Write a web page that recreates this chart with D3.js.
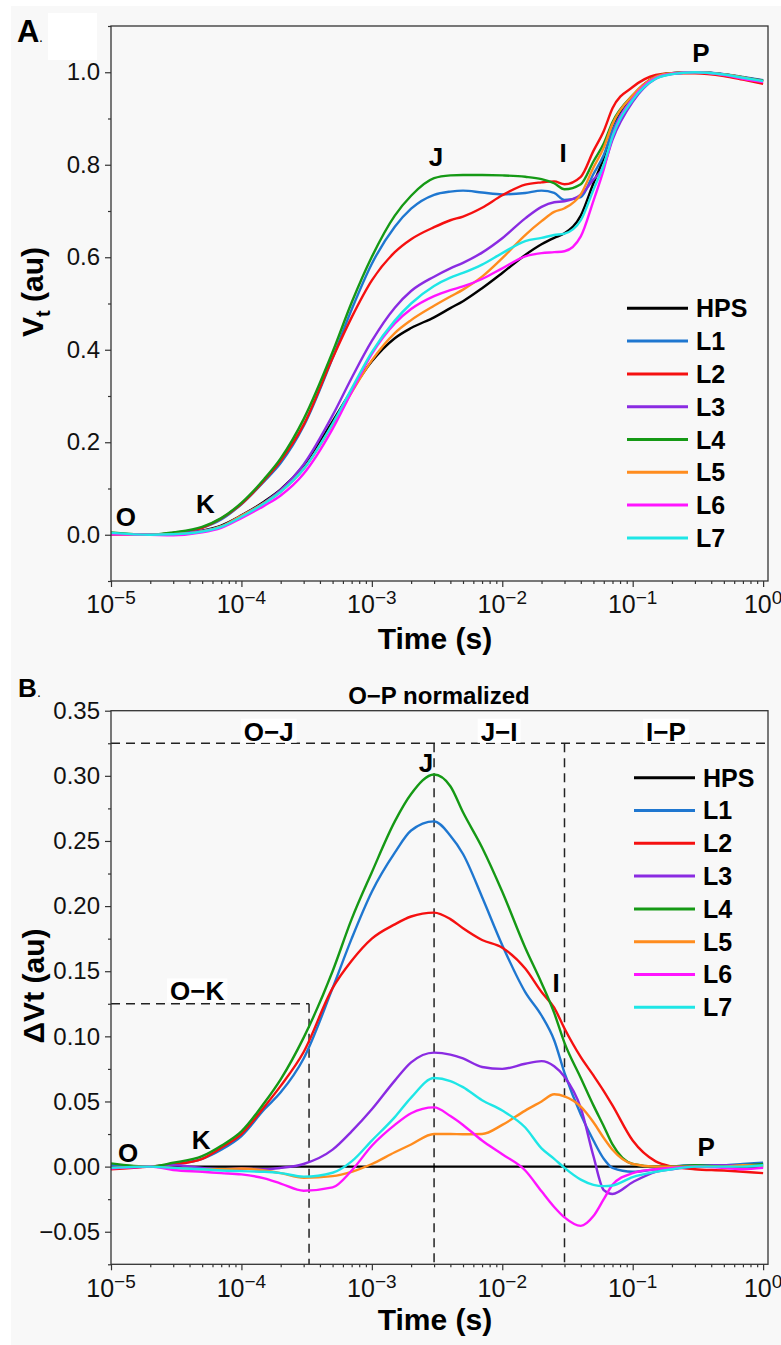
<!DOCTYPE html>
<html>
<head>
<meta charset="utf-8">
<script src="https://cdn.jsdelivr.net/npm/d3@7"></script>
<style>
  body { margin: 0; background: #f8f8f8; }
  svg { display: block; font-family: "Liberation Sans", Arial, sans-serif; }
</style>
</head>
<body>
<svg id="chart" width="781" height="1345"></svg>
<script>
// sampling times (s), shared by both panels
const timePoints = [1e-5, 2e-5, 3e-5, 5e-5, 7e-5, 1e-4, 1.5e-4, 2e-4, 3e-4, 5e-4, 7e-4,
  1e-3, 1.5e-3, 2e-3, 3e-3, 4e-3, 5e-3, 7e-3, 1e-2, 1.5e-2, 2e-2, 2.5e-2, 3e-2, 4e-2,
  5e-2, 6e-2, 7e-2, 1e-1, 1.5e-1, 2e-1, 3e-1, 5e-1, 7e-1, 1];
const seriesNames = ["HPS", "L1", "L2", "L3", "L4", "L5", "L6", "L7"];
const seriesColors = ["#000000", "#1f77d0", "#f51010", "#8a2be2", "#159915", "#ff8c1e", "#ff14ff", "#1ee6e6"];

// panel A : Vt (au)
const vtHPS = [0.002, 0.0, 0.002, 0.009, 0.02, 0.042, 0.072, 0.098, 0.15, 0.245, 0.312, 0.375, 0.425, 0.447, 0.47, 0.49, 0.505, 0.533, 0.566, 0.605, 0.628, 0.642, 0.652, 0.69, 0.76, 0.815, 0.875, 0.948, 0.99, 0.998, 1.0, 0.995, 0.988, 0.98];
const vtL1 = [0.003, 0.0, 0.004, 0.015, 0.033, 0.066, 0.116, 0.155, 0.235, 0.382, 0.487, 0.586, 0.666, 0.705, 0.735, 0.742, 0.744, 0.74, 0.736, 0.739, 0.744, 0.739, 0.724, 0.73, 0.78, 0.821, 0.874, 0.944, 0.988, 0.998, 1.0, 0.996, 0.99, 0.983];
const vtL2 = [0.0, 0.0, 0.004, 0.015, 0.035, 0.067, 0.118, 0.16, 0.238, 0.382, 0.47, 0.55, 0.611, 0.639, 0.665, 0.68, 0.688, 0.707, 0.734, 0.757, 0.762, 0.764, 0.758, 0.774, 0.83, 0.873, 0.922, 0.968, 0.994, 0.998, 0.998, 0.992, 0.984, 0.975];
const vtL3 = [0.001, 0.0, 0.003, 0.008, 0.018, 0.041, 0.07, 0.097, 0.152, 0.258, 0.339, 0.419, 0.491, 0.527, 0.558, 0.576, 0.588, 0.61, 0.641, 0.684, 0.709, 0.719, 0.721, 0.735, 0.768, 0.797, 0.854, 0.936, 0.986, 0.996, 1.0, 0.996, 0.989, 0.982];
const vtL4 = [0.005, 0.0, 0.005, 0.017, 0.036, 0.069, 0.121, 0.165, 0.25, 0.395, 0.502, 0.601, 0.69, 0.733, 0.771, 0.777, 0.778, 0.778, 0.777, 0.774, 0.769, 0.76, 0.747, 0.758, 0.807, 0.846, 0.892, 0.95, 0.99, 0.998, 1.0, 0.995, 0.989, 0.982];
const vtL5 = [0.001, 0.0, 0.001, 0.007, 0.018, 0.041, 0.069, 0.093, 0.142, 0.238, 0.308, 0.377, 0.436, 0.464, 0.495, 0.515, 0.53, 0.558, 0.598, 0.648, 0.678, 0.698, 0.706, 0.736, 0.794, 0.837, 0.888, 0.95, 0.99, 0.998, 1.0, 0.995, 0.989, 0.98];
const vtL6 = [0.001, 0.0, -0.001, 0.005, 0.015, 0.036, 0.063, 0.085, 0.132, 0.229, 0.309, 0.391, 0.457, 0.488, 0.516, 0.529, 0.537, 0.553, 0.576, 0.602, 0.609, 0.611, 0.613, 0.645, 0.722, 0.79, 0.861, 0.943, 0.988, 0.997, 1.0, 0.994, 0.986, 0.979];
const vtL7 = [0.004, 0.0, 0.001, 0.007, 0.017, 0.039, 0.068, 0.093, 0.142, 0.24, 0.316, 0.395, 0.463, 0.5, 0.538, 0.556, 0.566, 0.584, 0.609, 0.635, 0.642, 0.648, 0.651, 0.68, 0.746, 0.8, 0.861, 0.94, 0.986, 0.996, 1.0, 0.995, 0.988, 0.981];

// panel B : difference kinetics dVt (au), O-P normalized
const dvtHPS = [0, 0, 0, 0, 0, 0, 0, 0, 0, 0, 0, 0, 0, 0, 0, 0, 0, 0, 0, 0, 0, 0, 0, 0, 0, 0, 0, 0, 0, 0, 0, 0, 0, 0];
const dvtL1 = [0.001, 0, 0.002, 0.006, 0.013, 0.0235, 0.044, 0.057, 0.083, 0.137, 0.175, 0.211, 0.241, 0.258, 0.265, 0.254, 0.24, 0.207, 0.17, 0.134, 0.116, 0.097, 0.072, 0.04, 0.02, 0.006, -0.001, -0.004, -0.002, 0.0, 0.001, 0.001, 0.002, 0.003];
const dvtL2 = [-0.002, 0, 0.0017, 0.006, 0.0145, 0.025, 0.046, 0.062, 0.088, 0.137, 0.158, 0.175, 0.186, 0.192, 0.195, 0.19, 0.183, 0.174, 0.168, 0.152, 0.134, 0.122, 0.106, 0.084, 0.07, 0.058, 0.047, 0.02, 0.004, 0.0, -0.002, -0.003, -0.004, -0.005];
const dvtL3 = [-0.001, 0, 0.001, -0.001, -0.002, -0.0015, -0.002, -0.001, 0.002, 0.013, 0.027, 0.044, 0.066, 0.08, 0.0875, 0.086, 0.083, 0.0765, 0.075, 0.079, 0.081, 0.077, 0.069, 0.045, 0.008, -0.018, -0.021, -0.012, -0.004, -0.002, 0, 0.001, 0.001, 0.002];
const dvtL4 = [0.0025, 0, 0.003, 0.008, 0.016, 0.027, 0.049, 0.067, 0.099, 0.15, 0.19, 0.226, 0.265, 0.286, 0.301, 0.292, 0.272, 0.245, 0.211, 0.168, 0.141, 0.118, 0.095, 0.068, 0.047, 0.031, 0.017, 0.002, 0.0, 0.0, 0.001, 0.0, 0.001, 0.002];
const dvtL5 = [-0.001, 0, -0.001, -0.002, -0.002, -0.0015, -0.003, -0.005, -0.0085, -0.0073, -0.004, 0.002, 0.011, 0.017, 0.025, 0.025, 0.0248, 0.025, 0.032, 0.043, 0.05, 0.0555, 0.054, 0.046, 0.034, 0.022, 0.013, 0.002, 0, 0, 0, 0, 0.001, 0];
const dvtL6 = [-0.0015, 0, -0.0026, -0.004, -0.005, -0.006, -0.009, -0.013, -0.0185, -0.016, -0.003, 0.016, 0.032, 0.041, 0.0455, 0.0388, 0.032, 0.02, 0.0095, -0.003, -0.019, -0.031, -0.039, -0.0455, -0.038, -0.025, -0.014, -0.005, -0.002, -0.001, 0, -0.001, -0.002, -0.001];
const dvtL7 = [-0.001, 0, -0.001, -0.002, -0.003, -0.0035, -0.004, -0.005, -0.0077, -0.0047, 0.004, 0.02, 0.038, 0.053, 0.068, 0.0657, 0.061, 0.051, 0.043, 0.03, 0.014, 0.006, -0.001, -0.01, -0.014, -0.015, -0.0145, -0.008, -0.004, -0.002, 0, 0, 0, 0.001];

// ticks
const timeTicks = [1e-5, 1e-4, 1e-3, 1e-2, 1e-1, 1];
const timeTickExps = ["\u22125", "\u22124", "\u22123", "\u22122", "\u22121", "0"];
const vtTicks = [0, 0.2, 0.4, 0.6, 0.8, 1.0];
const vtMinorTicks = [-0.1, 0.1, 0.3, 0.5, 0.7, 0.9, 1.1];
const dvtTicks = [-0.05, 0, 0.05, 0.1, 0.15, 0.2, 0.25, 0.3, 0.35];
const dvtMinorTicks = [-0.075, -0.025, 0.025, 0.075, 0.125, 0.175, 0.225, 0.275, 0.325];

// phase marks of panel B
const phaseTimes = [0.00033, 0.003, 0.03]; // K, J, I
const phaseLevels = [0.125, 0.325]; // O-K box, top band

// point labels [text, time, value]
const labelsA = [["O", 1.3e-5, 0.02], ["K", 5.3e-5, 0.046], ["J", 3.1e-3, 0.798], ["I", 2.93e-2, 0.805], ["P", 0.334, 1.022]];
const labelsB = [["O", 1.35e-5, 0.0033], ["K", 4.9e-5, 0.0133], ["J", 2.6e-3, 0.303], ["I", 2.59e-2, 0.1344], ["P", 0.366, 0.0079]];
const phaseLabels = [["O\u2212J", 1.62e-4, 0.327], ["J\u2212I", 9.45e-3, 0.327], ["I\u2212P", 0.18, 0.327], ["O\u2212K", 4.57e-5, 0.1276]];

const svg = d3.select("#chart");
// figure background and the white strips of the source image
svg.append("rect").attr("width", 781).attr("height", 1345).attr("fill", "#f8f8f8");
svg.append("rect").attr("width", 781).attr("height", 6).attr("fill", "#fff");
svg.append("rect").attr("width", 11).attr("height", 1345).attr("fill", "#fff");
svg.append("rect").attr("x", 48).attr("y", 13).attr("width", 49).attr("height", 47).attr("fill", "#fff");

// panel letters
svg.append("text").attr("x", 17).attr("y", 42).attr("font-size", 31).attr("font-weight", "bold").text("A");
svg.append("text").attr("x", 39).attr("y", 42).attr("font-size", 14).text(".");
svg.append("text").attr("x", 18).attr("y", 697).attr("font-size", 26).attr("font-weight", "bold").text("B");
svg.append("text").attr("x", 37).attr("y", 697).attr("font-size", 14).text(".");

// minor ticks of a log decade axis
const timeMinorTicks = [];
for (let e = -5; e < 0; e++) {
  for (let m = 2; m <= 9; m++) timeMinorTicks.push(m * Math.pow(10, e));
}

function styleAxis(sel) {
  sel.attr("font-family", null).attr("font-size", null);
  sel.select(".domain").remove();
  sel.selectAll(".tick line").attr("stroke", "#333").attr("stroke-width", 1.2);
  sel.selectAll(".tick text").attr("font-size", 24).attr("fill", "#111");
}

// function to draw one panel
function drawPanel(cfg) {
  const g = svg.append("g").attr("transform", `translate(${cfg.left},${cfg.top})`);
  const x = d3.scaleLog().domain([1e-5, 1.09]).range([0, cfg.width]);
  const y = d3.scaleLinear().domain(cfg.yDomain).range([cfg.height, 0]);

  g.append("clipPath").attr("id", cfg.id + "-clip")
    .append("rect").attr("width", cfg.width).attr("height", cfg.height);

  // y axis
  g.append("g").call(d3.axisLeft(y).tickValues(cfg.yMinor).tickSize(3).tickFormat("")).call(styleAxis);
  g.append("g")
    .call(d3.axisLeft(y).tickValues(cfg.yTicks).tickSize(6).tickPadding(5).tickFormat(d3.format(cfg.yFormat)))
    .call(styleAxis);

  // x axis
  const gx = g.append("g").attr("transform", `translate(0,${cfg.height})`);
  gx.append("g").call(d3.axisBottom(x).tickValues(timeMinorTicks).tickSize(3).tickFormat("")).call(styleAxis);
  gx.append("g").call(d3.axisBottom(x).tickValues(timeTicks).tickSize(6).tickFormat("")).call(styleAxis);
  timeTicks.forEach((t, i) => {
    const lab = gx.append("text")
      .attr("x", x(t))
      .attr("y", cfg.tickLabelY)
      .attr("text-anchor", "middle")
      .attr("font-size", 25)
      .attr("fill", "#111");
    lab.append("tspan").text("10");
    lab.append("tspan").attr("font-size", 19).attr("dy", -9).text(timeTickExps[i]);
  });

  // axis titles
  g.append("text")
    .attr("x", 324)
    .attr("y", cfg.height + cfg.xTitleDy)
    .attr("text-anchor", "middle")
    .attr("font-size", 30)
    .attr("font-weight", "bold")
    .text("Time (s)");
  const yt = g.append("text")
    .attr("transform", `translate(${cfg.yTitleX - cfg.left},${cfg.yTitleY - cfg.top}) rotate(-90)`)
    .attr("text-anchor", "middle")
    .attr("font-size", 30)
    .attr("font-weight", "bold");
  cfg.yTitle(yt);

  // extra guide lines (panel B)
  if (cfg.guides) cfg.guides(g, x, y);

  // curves
  const line = d3.line()
    .x((d, i) => x(timePoints[i]))
    .y((d) => y(d))
    .curve(d3.curveMonotoneX);
  const body = g.append("g").attr("clip-path", `url(#${cfg.id}-clip)`);
  cfg.series.forEach((s, i) => {
    body.append("path")
      .datum(s)
      .attr("fill", "none")
      .attr("stroke", seriesColors[i])
      .attr("stroke-width", 2.4)
      .attr("stroke-linejoin", "round")
      .attr("d", line);
  });

  // frame
  g.append("rect")
    .attr("width", cfg.width)
    .attr("height", cfg.height)
    .attr("fill", "none")
    .attr("stroke", "#333")
    .attr("stroke-width", 1.3);

  // point labels
  cfg.labels.forEach((l) => {
    g.append("text")
      .attr("x", x(l[1]))
      .attr("y", y(l[2]))
      .attr("text-anchor", "middle")
      .attr("font-size", 26)
      .attr("font-weight", "bold")
      .text(l[0]);
  });

  // legend
  seriesNames.forEach((name, i) => {
    const ly = cfg.legendY + i * 32.8 - cfg.top;
    g.append("line")
      .attr("x1", cfg.legendX - cfg.left)
      .attr("x2", cfg.legendX - cfg.left + 61)
      .attr("y1", ly)
      .attr("y2", ly)
      .attr("stroke", seriesColors[i])
      .attr("stroke-width", 3);
    g.append("text")
      .attr("x", cfg.legendX - cfg.left + 69)
      .attr("y", ly)
      .attr("dy", "0.36em")
      .attr("font-size", 25)
      .attr("font-weight", "bold")
      .text(name);
  });
  return { g, x, y };
}

// panel A
drawPanel({
  id: "a", left: 111, top: 26, width: 657, height: 555,
  yDomain: [-0.1, 1.1], yTicks: vtTicks, yMinor: vtMinorTicks, yFormat: ".1f",
  tickLabelY: 32, xTitleDy: 68, yTitleX: 43, yTitleY: 292,
  yTitle: (t) => {
    t.append("tspan").text("V");
    t.append("tspan").attr("font-size", 20).attr("dy", 7).text("t");
    t.append("tspan").attr("dy", -7).text(" (au)");
  },
  series: [vtHPS, vtL1, vtL2, vtL3, vtL4, vtL5, vtL6, vtL7],
  labels: labelsA,
  legendX: 627, legendY: 308.3
});

// panel B
drawPanel({
  id: "b", left: 111, top: 710.7, width: 657, height: 553.6,
  yDomain: [-0.075, 0.35], yTicks: dvtTicks, yMinor: dvtMinorTicks, yFormat: ".2f",
  tickLabelY: 33, xTitleDy: 66, yTitleX: 44, yTitleY: 986,
  yTitle: (t) => t.text("\u0394Vt (au)"),
  series: [dvtHPS, dvtL1, dvtL2, dvtL3, dvtL4, dvtL5, dvtL6, dvtL7],
  labels: labelsB,
  legendX: 634, legendY: 777.7,
  guides: (g, x, y) => {
    const dash = (x1, y1, x2, y2) => g.append("line")
      .attr("x1", x1).attr("y1", y1).attr("x2", x2).attr("y2", y2)
      .attr("stroke", "#222").attr("stroke-width", 1.5).attr("stroke-dasharray", "9,6");
    const [xmin, xmax] = x.range();
    const [ybot] = y.range();
    dash(xmin, y(phaseLevels[1]), xmax, y(phaseLevels[1]));
    dash(xmin, y(phaseLevels[0]), x(phaseTimes[0]), y(phaseLevels[0]));
    dash(x(phaseTimes[0]), y(phaseLevels[0]), x(phaseTimes[0]), ybot);
    dash(x(phaseTimes[1]), y(phaseLevels[1]), x(phaseTimes[1]), ybot);
    dash(x(phaseTimes[2]), y(phaseLevels[1]), x(phaseTimes[2]), ybot);
    // phase names on white boxes
    phaseLabels.forEach((p) => {
      const t = g.append("text")
        .attr("x", x(p[1]))
        .attr("y", y(p[2]))
        .attr("text-anchor", "middle")
        .attr("font-size", 26)
        .attr("font-weight", "bold")
        .text(p[0]);
      const bb = t.node().getBBox();
      g.insert("rect", () => t.node())
        .attr("x", bb.x - 3)
        .attr("y", bb.y + 2)
        .attr("width", bb.width + 6)
        .attr("height", bb.height - 6)
        .attr("fill", "#fff");
    });
    // title above the frame
    g.append("text")
      .attr("x", x(3.27e-3))
      .attr("y", y(0.3548))
      .attr("text-anchor", "middle")
      .attr("font-size", 24)
      .attr("font-weight", "bold")
      .text("O\u2212P normalized");
  }
});
</script>
</body>
</html>
